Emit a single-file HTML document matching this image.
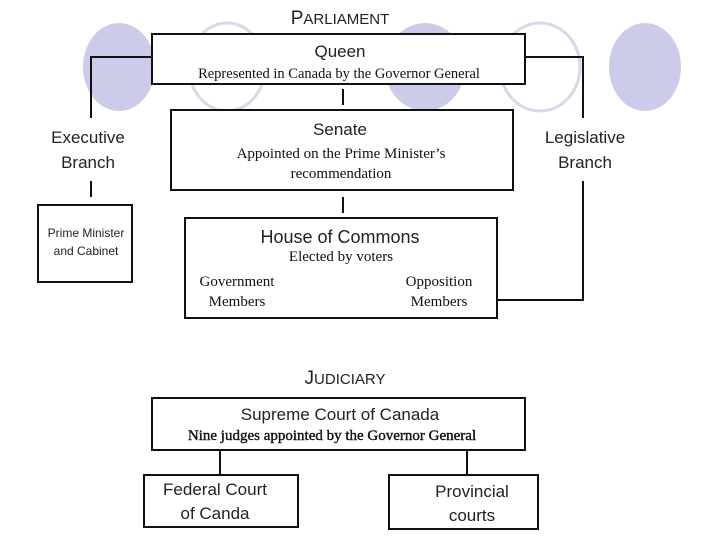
<!DOCTYPE html>
<html><head><meta charset="utf-8"><style>
html,body{margin:0;padding:0;background:#fff;}
svg{display:block;}
.s{font-family:"Liberation Sans",sans-serif;fill:#222;}
.r{font-family:"Liberation Serif",serif;fill:#111;}
</style></head><body>
<svg width="720" height="540" viewBox="0 0 720 540" xmlns="http://www.w3.org/2000/svg">
<g>
<ellipse cx="119" cy="67" rx="36" ry="44" fill="#ccccea"/>
<ellipse cx="227" cy="67" rx="38" ry="44" fill="#fff" stroke="#d8d8e8" stroke-width="3"/>
<ellipse cx="425" cy="67" rx="40" ry="44" fill="#ccccea"/>
<ellipse cx="540" cy="67" rx="40" ry="44" fill="#fff" stroke="#d8d8e8" stroke-width="3"/>
<ellipse cx="645" cy="67" rx="36" ry="44" fill="#ccccea"/>
</g>
<text x="340" y="24" class="s" font-size="19" text-anchor="middle">P<tspan font-size="15">ARLIAMENT</tspan></text>
<g stroke="#111" stroke-width="2" fill="none">
<polyline points="152,57 91,57 91,118"/>
<line x1="91" y1="181" x2="91" y2="197"/>
<polyline points="525,57 583,57 583,118"/>
<polyline points="583,181 583,300 497,300"/>
<line x1="343" y1="89" x2="343" y2="105"/>
<line x1="343" y1="197" x2="343" y2="213"/>
<line x1="220" y1="450" x2="220" y2="475"/>
<line x1="467" y1="450" x2="467" y2="475"/>
</g>
<g stroke="#111" stroke-width="2" fill="#fff">
<rect x="152" y="34" width="373" height="50"/>
<rect x="171" y="110" width="342" height="80"/>
<rect x="185" y="218" width="312" height="100"/>
<rect x="38" y="205" width="94" height="77"/>
<rect x="152" y="398" width="373" height="52"/>
<rect x="144" y="475" width="154" height="52"/>
<rect x="389" y="475" width="149" height="54"/>
</g>
<text x="340" y="57" class="s" font-size="17" text-anchor="middle">Queen</text>
<text x="339" y="78" class="r" font-size="14.5" text-anchor="middle">Represented in Canada by the Governor General</text>
<text x="340" y="135" class="s" font-size="17" text-anchor="middle">Senate</text>
<text x="341" y="158" class="r" font-size="15" text-anchor="middle">Appointed on the Prime Minister’s</text>
<text x="341" y="178" class="r" font-size="15" text-anchor="middle">recommendation</text>
<text x="340" y="243" class="s" font-size="18" text-anchor="middle">House of Commons</text>
<text x="341" y="261" class="r" font-size="15" text-anchor="middle">Elected by voters</text>
<text x="237" y="286" class="r" font-size="15" text-anchor="middle">Government</text>
<text x="237" y="306" class="r" font-size="15" text-anchor="middle">Members</text>
<text x="439" y="286" class="r" font-size="15" text-anchor="middle">Opposition</text>
<text x="439" y="306" class="r" font-size="15" text-anchor="middle">Members</text>
<text x="88" y="143" class="s" font-size="17" text-anchor="middle">Executive</text>
<text x="88" y="168" class="s" font-size="17" text-anchor="middle">Branch</text>
<text x="585" y="143" class="s" font-size="17" text-anchor="middle">Legislative</text>
<text x="585" y="168" class="s" font-size="17" text-anchor="middle">Branch</text>
<text x="86" y="237" class="s" font-size="12" text-anchor="middle">Prime Minister</text>
<text x="86" y="255" class="s" font-size="12" text-anchor="middle">and Cabinet</text>
<text x="345" y="384" class="s" font-size="19" text-anchor="middle">J<tspan font-size="15">UDICIARY</tspan></text>
<text x="340" y="420" class="s" font-size="17" text-anchor="middle">Supreme Court of Canada</text>
<text x="332" y="440" class="r" font-size="15" text-anchor="middle" stroke="#111" stroke-width="0.4">Nine judges appointed by the Governor General</text>
<text x="215" y="495" class="s" font-size="17" text-anchor="middle">Federal Court</text>
<text x="215" y="519" class="s" font-size="17" text-anchor="middle">of Canda</text>
<text x="472" y="497" class="s" font-size="17" text-anchor="middle">Provincial</text>
<text x="472" y="521" class="s" font-size="17" text-anchor="middle">courts</text>
</svg>
</body></html>
